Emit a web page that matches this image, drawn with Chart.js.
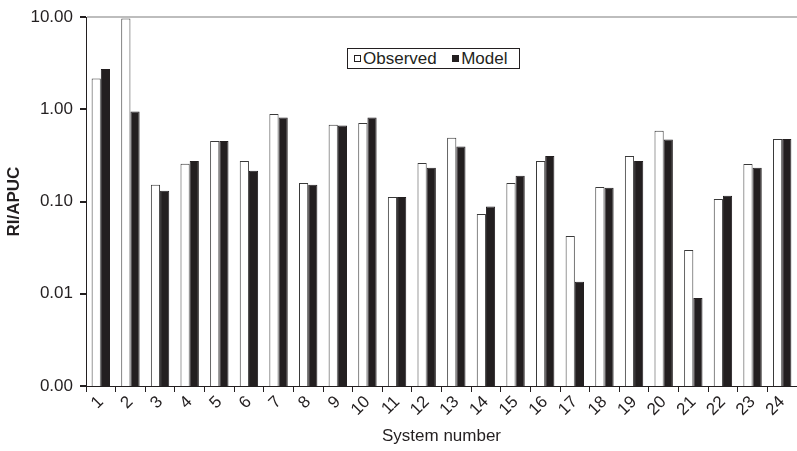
<!DOCTYPE html>
<html>
<head>
<meta charset="utf-8">
<script src="https://cdn.jsdelivr.net/npm/chart.js@4/dist/chart.umd.min.js"></script>
<style>
  body { margin: 0; background: #fff; }
  #wrap { position: relative; width: 797px; height: 451px; }
  #leyenda {
    position: absolute; left: 347px; top: 48px; width: 171px; height: 19px;
    border: 1px solid #231f20; background: #fff;
    font-family: "Liberation Sans", Arial, sans-serif; font-size: 17px; color: #231f20;
    line-height: 19px; white-space: nowrap;
  }
  #leyenda span.item { display: inline-block; }
  #leyenda span.cuadro {
    display: inline-block; width: 5px; height: 5px; margin: 0 2px 2px 6px;
    vertical-align: middle; border: 1px solid #231f20;
  }
</style>
</head>
<body>
<div id="wrap">
  <canvas id="myChart" width="797" height="451"></canvas>
  <div id="leyenda"></div>
</div>
<script>
// datos (escala logaritmica)
const sistemas = ["1","2","3","4","5","6","7","8","9","10","11","12","13","14","15","16","17","18","19","20","21","22","23","24"];
const observado = [2.17, 9.7, 0.152, 0.257, 0.454, 0.275, 0.889, 0.159, 0.681, 0.71, 0.112, 0.262, 0.492, 0.0734, 0.159, 0.275, 0.0424, 0.144, 0.312, 0.586, 0.0299, 0.107, 0.256, 0.476];
const modelo = [2.74, 0.95, 0.131, 0.275, 0.454, 0.216, 0.817, 0.152, 0.669, 0.817, 0.112, 0.233, 0.396, 0.0887, 0.191, 0.312, 0.0135, 0.141, 0.275, 0.472, 0.0090, 0.116, 0.233, 0.476];
const ticksY = [0.001, 0.01, 0.1, 1, 10];

const fuente = "'Liberation Sans', Arial, sans-serif";
const colorTexto = "#231f20";

const config = {
  type: "bar",
  data: {
    labels: sistemas,
    datasets: [
      {
        label: "Observed",
        data: observado,
        backgroundColor: "#ffffff",
        borderColor: "#3a3a3a",
        borderWidth: 1,
        categoryPercentage: 0.62,
        barPercentage: 1,
      },
      {
        label: "Model",
        data: modelo,
        backgroundColor: "#231f20",
        borderColor: "#231f20",
        borderWidth: 1,
        categoryPercentage: 0.62,
        barPercentage: 1,
      },
    ],
  },
  options: {
    responsive: false,
    animation: false,
    layout: { padding: { left: 0, right: 0, top: 15, bottom: 4 } },
    plugins: { legend: { display: false }, tooltip: { enabled: false } },
    scales: {
      x: {
        type: "category",
        grid: { display: true, drawOnChartArea: false, offset: true, tickLength: 6, tickColor: colorTexto },
        border: { display: true, color: colorTexto, width: 1 },
        ticks: { autoSkip: false, maxRotation: 45, minRotation: 45, color: colorTexto, font: { family: fuente, size: 17 }, padding: 0 },
        title: { display: true, text: "System number", color: colorTexto, font: { family: fuente, size: 17 }, padding: { top: 2, bottom: 0 } },
        afterFit: (scale) => { scale.height = 61; },
      },
      y: {
        type: "logarithmic",
        min: 0.001,
        max: 10,
        afterBuildTicks: (scale) => { scale.ticks = ticksY.map((v) => ({ value: v })); },
        grid: {
          drawOnChartArea: true,
          tickLength: 6,
          tickColor: colorTexto,
          color: (ctx) => (ctx.tick && ctx.tick.value === 10 ? "#bdbdbd" : "rgba(0,0,0,0)"),
          lineWidth: 2,
        },
        border: { display: true, color: colorTexto, width: 1 },
        ticks: {
          color: colorTexto,
          font: { family: fuente, size: 17 },
          padding: 7,
          callback: (v) => Number(v).toFixed(2),
        },
        title: { display: true, text: "RI/APUC", color: colorTexto, font: { family: fuente, size: 17, weight: "bold" }, padding: { top: 4, bottom: 0 } },
        afterFit: (scale) => { scale.width = 86; },
      },
    },
  },
};

const ctx = document.getElementById("myChart").getContext("2d");
const grafico = new Chart(ctx, config);

// leyenda en html dentro del area del grafico
const leyenda = document.getElementById("leyenda");
leyenda.innerHTML = grafico.data.datasets
  .map((d) => `<span class="item"><span class="cuadro" style="background:${d.backgroundColor}"></span>${d.label}</span>`)
  .join("&nbsp;&nbsp;");
</script>
</body>
</html>
